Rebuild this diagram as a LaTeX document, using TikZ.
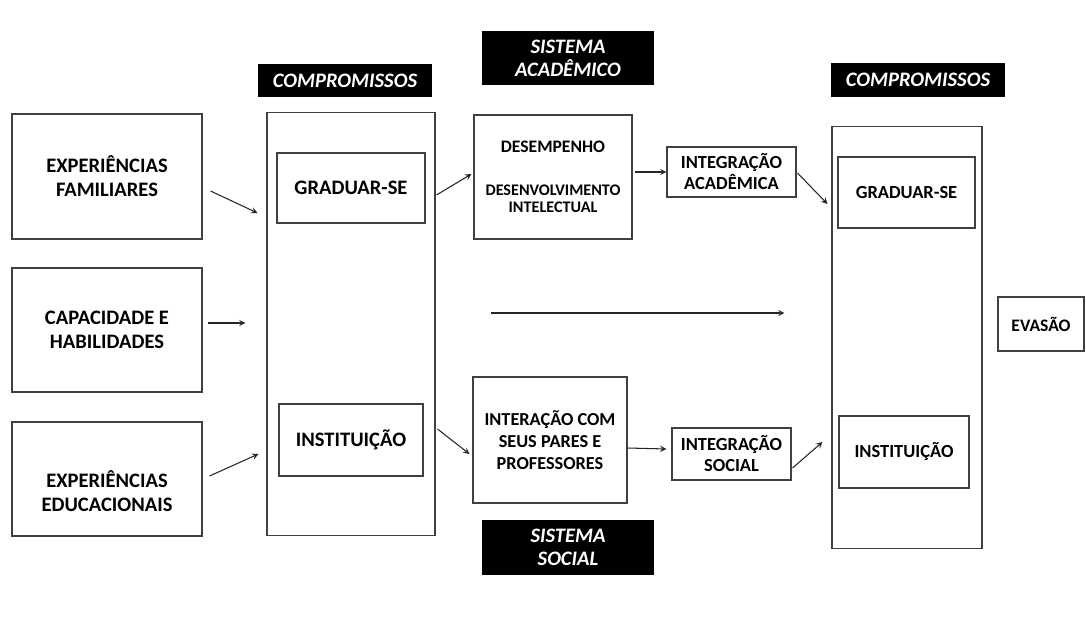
\documentclass[tikz,border=0pt]{standalone}
\usepackage{fontspec}
\setmainfont{Carlito}

\tikzset{%
				every box/.style={
					rectangle,
					draw=black!75,
					line width=0.6pt,
					align=center,
					inner sep=2pt,
					font=\bfseries\fontsize{11.7}{13.7}\selectfont
				},
				small box/.style={
					font=\bfseries\fontsize{10.5}{12}\selectfont
				},
				black label/.style={
					rectangle,
					fill=black,
					text=white,
					align=center,
					inner sep=0pt,
					font=\bfseries\itshape\fontsize{11.7}{13}\selectfont
				},
				link/.style={
					->,
					draw=black!85,
					line width=0.6pt
				},
			}

\begin{document}
\begin{tikzpicture}[x=0.02cm, y=-0.02cm, >=stealth]
			
			\useasboundingbox (0,0) rectangle (1086,622);
			
			\foreach \n/\y/\h/\t in {fam/176.5/2.5/{EXPERIÊNCIAS\\FAMILIARES}, cap/330/2.48/{CAPACIDADE E\\HABILIDADES}, edu/479/2.28/{\mbox{}\\[10pt]EXPERIÊNCIAS\\EDUCACIONAIS}}
			\node [every box, minimum width=3.8cm, minimum height=\h cm] (\n) at (107,\y) {\t};
			
			\foreach \x [count=\i] in {345, 918}
			\node [black label, minimum width=3.48cm, minimum height=0.68cm] (head-\i) at (\x,81-\i/2) {COMPROMISSOS};
			
			\node [every box, minimum width=3.36cm, minimum height=8.48cm] (commit-1) at (351,324) {};
			\node [every box, minimum width=3.0cm, minimum height=8.46cm] (commit-2) at (907,337.5) {};
			
			\node [every box, minimum width=2.96cm, minimum height=1.4cm] (goal-1) at (351,188) {GRADUAR-SE};
			\node [every box, minimum width=2.88cm, minimum height=1.44cm] (inst-1) at (351,440) {INSTITUIÇÃO};
			\node [every box, small box, minimum width=2.74cm, minimum height=1.42cm] (goal-2) at (906.5,192.5) {GRADUAR-SE};
			\node [every box, small box, minimum width=2.6cm, minimum height=1.44cm] (inst-2) at (904,452) {INSTITUIÇÃO};
			
			\node [black label, minimum width=3.44cm, minimum height=1.08cm] (sys-acad) at (568,58) {SISTEMA\\ACADÊMICO};
			\node [black label, minimum width=3.44cm, minimum height=1.1cm] (sys-soc) at (568,547.5) {SISTEMA\\SOCIAL};
			
			\node [every box, minimum width=3.16cm, minimum height=2.48cm, font=\bfseries\fontsize{10}{12}\selectfont] (perform) at (553,177)
			{DESEMPENHO\\[12pt]{\fontsize{9.2}{10.5}\selectfont DESENVOLVIMENTO}\\[-2pt]{\fontsize{9.2}{10.5}\selectfont INTELECTUAL}};
			\node [every box, minimum width=3.08cm, minimum height=2.52cm, font=\bfseries\fontsize{10.4}{12.6}\selectfont] (interact) at (550,440)
			{INTERAÇÃO COM\\SEUS PARES E\\PROFESSORES};
			
			\node [every box, small box, minimum width=2.58cm, minimum height=1.0cm] (integ-acad) at (731.5,172) {INTEGRAÇÃO\\ACADÊMICA};
			\node [every box, small box, minimum width=2.38cm, minimum height=1.04cm] (integ-soc) at (731.5,454) {INTEGRAÇÃO\\SOCIAL};
			
			\node [every box, minimum width=1.72cm, minimum height=1.08cm, font=\bfseries\fontsize{10}{12}\selectfont] (dropout) at (1041,324) {EVASÃO};
			
			\draw [link] ([shift={(8,14.5)}]fam.east) -- ([shift={(-9,-111)}]commit-1.west);
			\draw [link] ([shift={(5,-7)}]cap.east) -- ([shift={(-21,-1)}]commit-1.west);
			\draw [link] ([shift={(7,-3)}]edu.east) -- ([shift={(-8,130)}]commit-1.west);
			
			\draw [link] ([shift={(1,7)}]commit-1.east |- goal-1.east) -- ([shift={(-2,-3)}]perform.west);
			\draw [link] ([shift={(2,-11)}]commit-1.east |- inst-1.east) -- ([shift={(-3,14)}]interact.west);
			
			\draw [link] ([shift={(2,-5)}]perform.east) -- (integ-acad.west);
			\draw [link] ([shift={(0,8)}]interact.east) -- ([shift={(-5,-5)}]integ-soc.west);
			
			\draw [link] ([shift={(1,1)}]integ-acad.east) -- ([shift={(-4,-133.5)}]commit-2.west);
			\draw [link] ([shift={(1,14)}]integ-soc.east) -- ([shift={(-9,104.5)}]commit-2.west);
			
			\draw [link] ([shift={(55,-11)}]commit-1.east) -- ([shift={(-47,-24.5)}]commit-2.west);
			
			\end{tikzpicture}
\end{document}
